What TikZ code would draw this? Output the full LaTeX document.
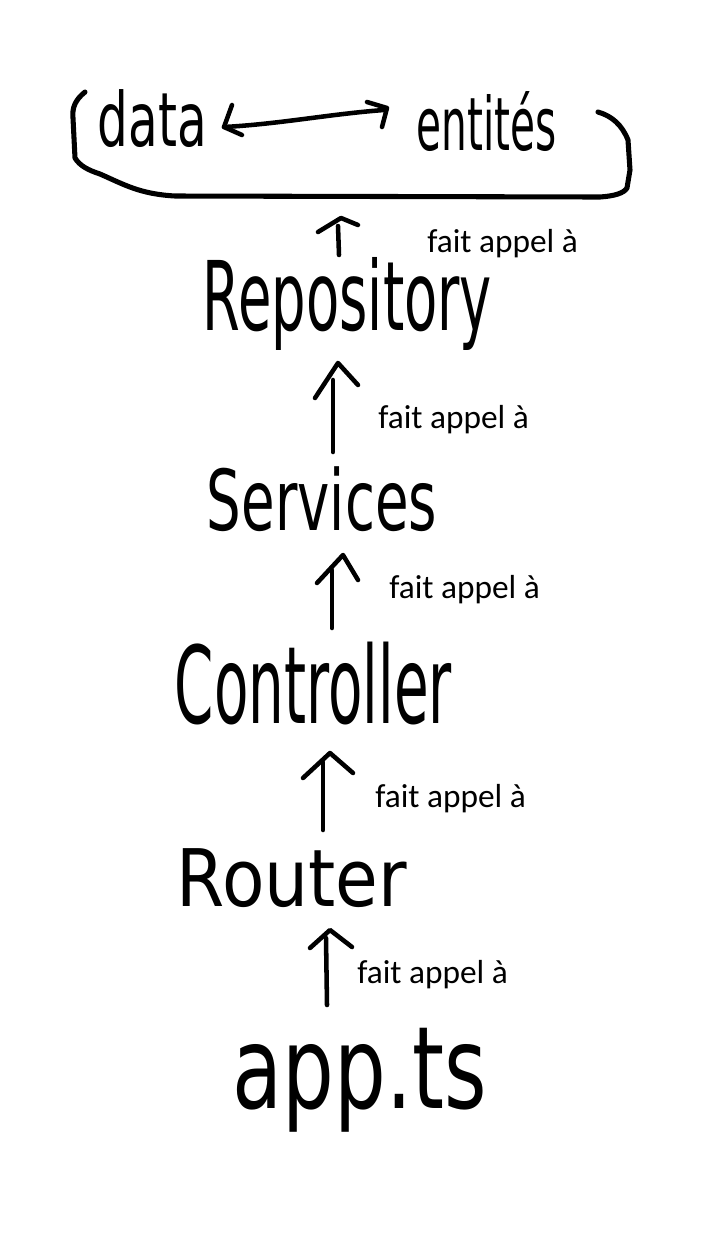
\documentclass[tikz,border=0pt]{standalone}
\usepackage{fontspec}
\setmainfont{DejaVu Sans}
\newfontfamily\lblfont{Carlito}
\usetikzlibrary{arrows.meta}
\newcommand\hwword[3]{\resizebox*{#1}{#2}{#3}}
\begin{document}
\begin{tikzpicture}[x=0.75pt,y=-0.75pt,
  hw/.style={inner sep=0pt, outer sep=0pt},
  lbl/.style={anchor=base west, inner sep=0pt, font=\lblfont\fontsize{25}{30}\selectfont},
  ink/.style={line width=3.4pt, line cap=round, line join=round},
  bracketline/.style={line width=3.8pt, line cap=round, line join=round}]
\useasboundingbox (0,0) rectangle (715,1233);

% words
\node[hw] (data) at (152.5,119) {\hwword{81.75pt}{43.5pt}{data}};
\node[hw] (ent) at (487,122) {\hwword{105pt}{45pt}{entités}};
\node[hw] (repo) at (347.5,303.5) {\hwword{216.75pt}{69.75pt}{Repository}};
\node[hw] (serv) at (322,499.5) {\hwword{172.5pt}{48.75pt}{Services}};
\node[hw] (ctrl) at (313.5,683.5) {\hwword{207.75pt}{62.25pt}{Controller}};
\node[hw] (rout) at (292,878.5) {\hwword{172.5pt}{44.25pt}{Router}};
\node[hw] (app) at (360,1080) {\hwword{190.5pt}{78pt}{app.ts}};

% bracket
\draw[bracketline] (85,92) .. controls (75,100) and (72,108) .. (73,118)
  -- (75,158) .. controls (80,166) and (88,170) .. (100,174)
  .. controls (125,185) and (140,194) .. (175,196)
  -- (600,197) .. controls (615,196) and (624,193) .. (627,188)
  -- (630,170) -- (628,140) .. controls (622,125) and (612,116) .. (598,112);

% double arrow data <-> entites
\coordinate (dl) at (224,127);
\coordinate (dr) at (384,110);
\draw[ink] (dl) .. controls (280,124) and (330,114) .. (dr);
\draw[ink] (232,105) -- (dl) -- (242,135);
\draw[ink] (367,102) -- (387,108) -- (382,127);

% arrows "fait appel a"
\coordinate (a1b) at (339,255); \coordinate (a1t) at (338,226); \coordinate (a1h) at (341,218);
\draw[ink] (a1b) -- (a1t);
\draw[ink] (318,232) -- (a1h) -- (358,225);
\node[lbl] (l1) at (427,252) {fait appel à};

\coordinate (a2b) at (333,452); \coordinate (a2t) at (333,380); \coordinate (a2h) at (338,363);
\draw[ink] (a2b) -- (a2t);
\draw[ink] (315,398) -- (a2h) -- (358,385);
\node[lbl] (l2) at (378,428) {fait appel à};

\coordinate (a3b) at (332,628); \coordinate (a3t) at (332,570); \coordinate (a3h) at (343,555);
\draw[ink] (a3b) -- (a3t);
\draw[ink] (317,583) -- (a3h) -- (358,580);
\node[lbl] (l3) at (389,598) {fait appel à};

\coordinate (a4b) at (323,830); \coordinate (a4t) at (323,762); \coordinate (a4h) at (330,753);
\draw[ink] (a4b) -- (a4t);
\draw[ink] (303,778) -- (a4h) -- (353,773);
\node[lbl] (l4) at (375,807) {fait appel à};

\coordinate (a5b) at (327,1005); \coordinate (a5t) at (326,938); \coordinate (a5h) at (330,930);
\draw[ink] (a5b) -- (a5t);
\draw[ink] (310,948) -- (a5h) -- (352,947);
\node[lbl] (l5) at (357,983) {fait appel à};
\end{tikzpicture}
\end{document}
